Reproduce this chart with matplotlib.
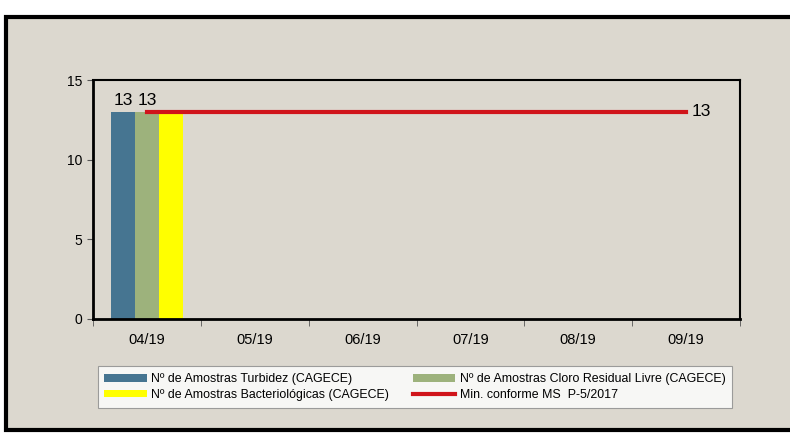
import numpy as np
import matplotlib.pyplot as plt
from matplotlib.patches import Rectangle

plt.rcParams['font.family'] = ['Liberation Sans', 'DejaVu Sans']

# dados
meses = ['04/19', '05/19', '06/19', '07/19', '08/19', '09/19']
turbidez = [13, np.nan, np.nan, np.nan, np.nan, np.nan]
cloro = [13, np.nan, np.nan, np.nan, np.nan, np.nan]
bacterio = [13, np.nan, np.nan, np.nan, np.nan, np.nan]
minimo = [13, 13, 13, 13, 13, 13]

fundo = '#dcd8cf'
c_turb = '#467591'
c_cloro = '#9db27c'
c_bact = '#ffff00'
c_min = '#d0141a'

fig = plt.figure(figsize=(7.9, 4.33), dpi=100)
fig.patch.set_facecolor('white')

# moldura externa
fig.patches.append(Rectangle((6/790, 1-430/433), 1.0, (430-17)/433,
                             transform=fig.transFigure, facecolor=fundo,
                             edgecolor='black', linewidth=3, zorder=-10))

ax = fig.add_axes([93/790, 1-319/433, (740-93)/790, (319-80)/433])
ax.set_facecolor(fundo)

x = np.arange(len(meses))
w = 0.22
b1 = ax.bar(x - w, turbidez, w, color=c_turb, label='Nº de Amostras Turbidez (CAGECE)')
b3 = ax.bar(x + w, bacterio, w, color=c_bact, label='Nº de Amostras Bacteriológicas (CAGECE)')
b2 = ax.bar(x, cloro, w, color=c_cloro, label='Nº de Amostras Cloro Residual Livre (CAGECE)')
l1, = ax.plot(x, minimo, color=c_min, linewidth=3, label='Min. conforme MS  P-5/2017')

for i in range(len(meses)):
    if not np.isnan(turbidez[i]):
        ax.annotate(str(int(turbidez[i])), (x[i] - w, turbidez[i]), xytext=(0, 3),
                    textcoords='offset points', ha='center', va='bottom', fontsize=12.5)
    if not np.isnan(cloro[i]):
        ax.annotate(str(int(cloro[i])), (x[i], cloro[i]), xytext=(0, 3),
                    textcoords='offset points', ha='center', va='bottom', fontsize=12.5)
ax.annotate(str(minimo[-1]), (x[-1], minimo[-1]), xytext=(4, 0),
            textcoords='offset points', ha='left', va='center', fontsize=12.5)

ax.set_xlim(-0.5, len(meses) - 0.5)
ax.set_ylim(0, 15)
ax.set_yticks([0, 5, 10, 15])
ax.set_xticks(x)
ax.set_xticklabels(meses)
ax.set_xticks(np.arange(len(meses) + 1) - 0.5, minor=True)
ax.tick_params(axis='x', which='major', length=0, pad=10, labelsize=10.5)
ax.tick_params(axis='x', which='minor', length=5, direction='out', color='#555555')
ax.tick_params(axis='y', length=4, labelsize=10, color='#555555')

for s in ['left', 'bottom']:
    ax.spines[s].set_linewidth(2)
for s in ['top', 'right']:
    ax.spines[s].set_linewidth(1.5)

leg = fig.legend(handles=[b1, b3, b2, l1], ncol=2,
                 loc='center', bbox_to_anchor=(415/790, 1-387/433),
                 fontsize=8.9, frameon=True, fancybox=False,
                 handlelength=3.4, handleheight=0.6, handletextpad=0.4,
                 columnspacing=1.9, labelspacing=0.3, borderpad=0.55,
                 borderaxespad=0)
leg.get_frame().set_edgecolor('#888888')
leg.get_frame().set_linewidth(0.8)
leg.get_frame().set_facecolor('white')

fig.savefig('out.png', dpi=100, facecolor=fig.get_facecolor())
